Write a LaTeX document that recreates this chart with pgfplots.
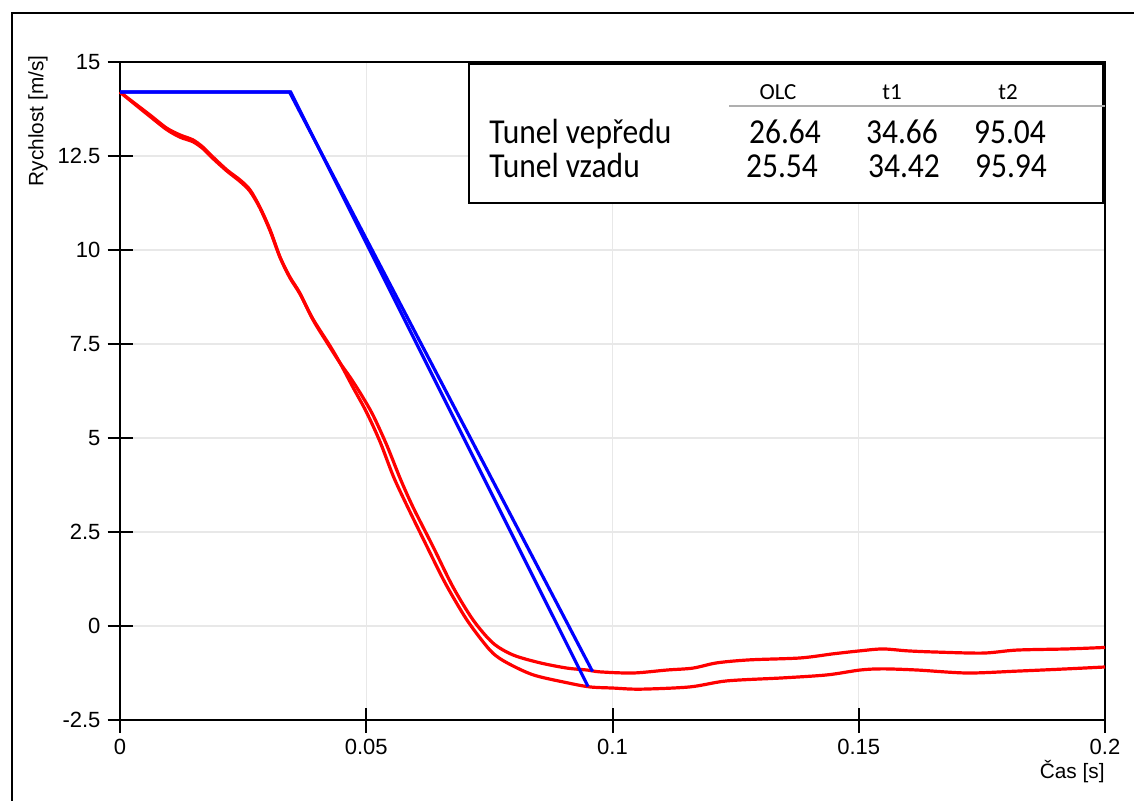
\documentclass[border=0pt]{standalone}
\usepackage{graphicx}
\usepackage{pgfplots}
\pgfplotsset{compat=1.18}
\usepackage{fontspec}
\setmainfont{Liberation Sans}
\newfontfamily\carlito{Carlito}
\definecolor{gridgray}{RGB}{232,232,232}
\definecolor{rulegray}{RGB}{175,175,175}
\definecolor{pred}{RGB}{255,0,0}
\definecolor{pblue}{RGB}{0,0,255}
\newcommand{\rowfont}{\carlito\fontsize{17.5}{20}\selectfont}
\newcommand{\headfont}{\carlito\fontsize{11.5}{13}\selectfont}
\newcommand{\rowtext}[1]{\scalebox{0.9}[1]{\rowfont #1}}
\begin{document}
\begin{tikzpicture}
\begin{axis}[
  at={(0,0)}, anchor=south west,
  scale only axis, width=492.5pt, height=329pt,
  xmin=0, xmax=0.2, ymin=-2.5, ymax=15,
  xtick={0,0.05,0.1,0.15,0.2},
  ytick={-2.5,0,2.5,5,7.5,10,12.5,15},
  xticklabels={0,0.05,0.1,0.15,0.2},
  yticklabels={-2.5,0,2.5,5,7.5,10,12.5,15},
  tick pos=left, tick align=center, major tick length=12.5pt,
  grid=major, grid style={gridgray, line width=0.6pt},
  axis line style={line width=1pt},
  every tick/.style={black, line width=1pt},
  ticklabel style={font=\fontsize{11}{13}\selectfont},
  xlabel={Čas [s]}, ylabel={Rychlost [m/s]},
  label style={font=\fontsize{10.4}{12}\selectfont},
  xlabel style={at={(axis description cs:1,-0.079)}, anchor=east, inner sep=0pt},
  ylabel style={at={(axis description cs:-0.0832,1.0106)}, anchor=east, inner sep=0pt},
  clip=false,
]
% red: tunel vzadu (ends higher)
\addplot[pred, line width=1.6pt, smooth, tension=0.5] coordinates {
(0,14.2) (0.0026,13.94) (0.0061,13.59) (0.0095,13.24) (0.0122,13.06)
(0.0148,12.93) (0.0168,12.74) (0.0189,12.47) (0.0217,12.13) (0.0244,11.86)
(0.0264,11.60) (0.0284,11.14) (0.0305,10.53) (0.0325,9.81) (0.0345,9.28)
(0.0365,8.86) (0.0392,8.14) (0.0426,7.42) (0.0447,6.99)
(0.0467,6.62) (0.0490,6.15) (0.0514,5.60) (0.0542,4.80) (0.0569,3.92)
(0.0595,3.16) (0.0636,2.10) (0.0676,1.04) (0.0717,0.16) (0.0757,-0.45)
(0.0798,-0.77) (0.0853,-0.98) (0.0908,-1.12) (0.0948,-1.17) (0.0975,-1.22)
(0.1042,-1.25) (0.1111,-1.17) (0.1163,-1.12) (0.1212,-0.98) (0.1279,-0.90)
(0.1381,-0.85) (0.1448,-0.74) (0.1503,-0.66) (0.1549,-0.61) (0.1598,-0.66)
(0.1651,-0.69) (0.1752,-0.72) (0.1821,-0.64) (0.1923,-0.61) (0.2000,-0.57)
};
% red: tunel vepredu (ends lower)
\addplot[pred, line width=1.6pt, smooth, tension=0.5] coordinates {
(0,14.2) (0.0026,13.92) (0.0061,13.55) (0.0095,13.20) (0.0122,13.00)
(0.0148,12.88) (0.0168,12.70) (0.0189,12.43) (0.0217,12.10) (0.0244,11.82)
(0.0264,11.56) (0.0284,11.12) (0.0305,10.50) (0.0325,9.80) (0.0345,9.26)
(0.0365,8.84) (0.0392,8.16) (0.0426,7.46) (0.0447,6.99)
(0.0473,6.35) (0.0500,5.70) (0.0528,4.90) (0.0555,3.98) (0.0582,3.22)
(0.0620,2.20) (0.0660,1.15) (0.0700,0.25) (0.0730,-0.30) (0.0757,-0.72)
(0.0786,-0.98) (0.0839,-1.30) (0.0908,-1.51) (0.0954,-1.62) (0.1001,-1.65)
(0.1056,-1.68) (0.1157,-1.62) (0.1232,-1.46) (0.1346,-1.38) (0.1436,-1.30)
(0.1503,-1.17) (0.1549,-1.14) (0.1618,-1.17) (0.1720,-1.25) (0.1821,-1.20)
(0.1923,-1.14) (0.2000,-1.09)
};
% blue: vepredu
\addplot[pblue, line width=1.6pt] coordinates {(0,14.2) (0.03466,14.2) (0.09504,-1.61)};
% blue: vzadu
\addplot[pblue, line width=1.6pt] coordinates {(0,14.2) (0.03442,14.2) (0.09594,-1.21)};
\end{axis}
% table box
\draw[line width=1pt, fill=white] (174.5pt,258.5pt) rectangle (491.5pt,328pt);
\draw[rulegray, line width=1pt] (304.5pt,307pt) -- (492.5pt,307pt);
\node[anchor=base, inner sep=0pt] at (329pt,310pt) {\headfont OLC};
\node[anchor=base, inner sep=0pt] at (386pt,310pt) {\headfont t1};
\node[anchor=base, inner sep=0pt] at (444pt,310pt) {\headfont t2};
\node[anchor=base west, inner sep=0pt] at (184.5pt,288.5pt) {\rowtext{Tunel vepředu}};
\node[anchor=base west, inner sep=0pt] at (184.5pt,271.5pt) {\rowtext{Tunel vzadu}};
\node[anchor=base, inner sep=0pt] at (332.5pt,288.5pt) {\rowtext{26.64}};
\node[anchor=base, inner sep=0pt] at (391pt,288.5pt) {\rowtext{34.66}};
\node[anchor=base, inner sep=0pt] at (445pt,288.5pt) {\rowtext{95.04}};
\node[anchor=base, inner sep=0pt] at (331pt,271.5pt) {\rowtext{25.54}};
\node[anchor=base, inner sep=0pt] at (392pt,271.5pt) {\rowtext{34.42}};
\node[anchor=base, inner sep=0pt] at (445.5pt,271.5pt) {\rowtext{95.94}};
% outer frame
\draw[line width=1.2pt] (-54pt,-80pt) -- (-54pt,353.5pt) -- (540pt,353.5pt);
\pgfresetboundingbox
\path[use as bounding box] (-60pt,-40pt) rectangle (507pt,360pt);
\end{tikzpicture}
\end{document}
